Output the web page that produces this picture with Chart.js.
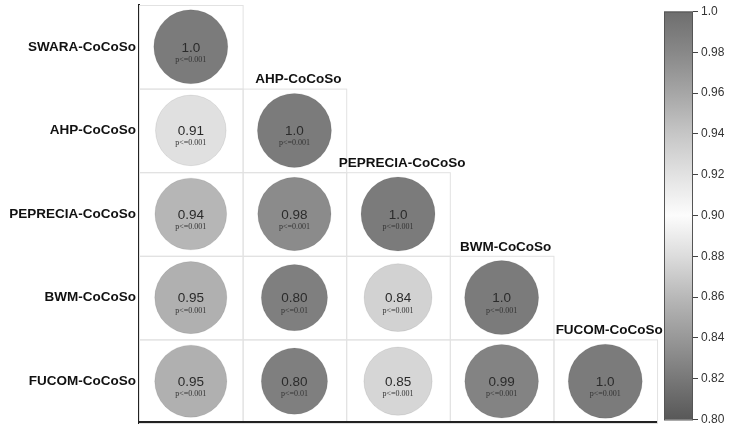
<!DOCTYPE html>
<html lang="en">
<head>
    <meta charset="UTF-8">
    <title>Correlation matrix - CoCoSo rankings</title>
    <script src="https://cdn.jsdelivr.net/npm/chart.js"></script>
    <style>
        body { margin: 0; background: #fff; }
        #wrap { width: 732px; height: 427px; position: relative; }
    </style>
</head>
<body>
    <div id="wrap"><canvas id="grafico"></canvas></div>

    <script>
        // methods (rows top to bottom, columns left to right)
        const methods = ['SWARA-CoCoSo', 'AHP-CoCoSo', 'PEPRECIA-CoCoSo', 'BWM-CoCoSo', 'FUCOM-CoCoSo'];

        // lower triangle of the correlation matrix
        const corrRows = [
            [1.0],
            [0.91, 1.0],
            [0.94, 0.98, 1.0],
            [0.95, 0.80, 0.84, 1.0],
            [0.95, 0.80, 0.85, 0.99, 1.0]
        ];

        // significance shown under each value
        const pRows = [
            ['0.001'],
            ['0.001', '0.001'],
            ['0.001', '0.001', '0.001'],
            ['0.001', '0.01', '0.001', '0.001'],
            ['0.001', '0.01', '0.001', '0.001', '0.001']
        ];

        // colour bar ticks
        const cbTicks = [0.80, 0.82, 0.84, 0.86, 0.88, 0.90, 0.92, 0.94, 0.96, 0.98, 1.0];

        // grey scale used for the circles (value -> grey level)
        const circleStops = [[0.80, 0x7f], [0.84, 0xd2], [0.85, 0xd6], [0.90, 0xe6], [0.91, 0xe0],
                             [0.94, 0xb6], [0.95, 0xb0], [0.98, 0x8b], [0.99, 0x83], [1.0, 0x7b]];
        // grey scale of the colour bar
        const barStops = [[0.80, 0x58], [0.82, 0x78], [0.84, 0x98], [0.86, 0xb8], [0.88, 0xdc], [0.90, 0xfc],
                          [0.92, 0xe2], [0.94, 0xc6], [0.96, 0xa6], [0.98, 0x88], [1.0, 0x6e]];

        function grey(stops, v) {
            let g = stops[stops.length - 1][1];
            for (let k = 0; k < stops.length - 1; k++) {
                const a = stops[k], b = stops[k + 1];
                if (v >= a[0] && v <= b[0]) {
                    const t = (v - a[0]) / (b[0] - a[0]);
                    g = a[1] + t * (b[1] - a[1]);
                    break;
                }
            }
            g = Math.round(g);
            return `rgb(${g},${g},${g})`;
        }

        function fmtValue(v) {
            return v === 1 ? '1.0' : v.toFixed(2);
        }

        // bubble points built from the matrix
        const pontos = [];
        corrRows.forEach((row, i) => {
            row.forEach((v, j) => {
                pontos.push({ x: j + 0.5, y: i + 0.5, r: 37 * Math.sqrt(v), v: v, p: pRows[i][j] });
            });
        });

        const sans = '"Liberation Sans", Arial, sans-serif';
        const serif = '"Liberation Serif", "Times New Roman", serif';

        // grid lines, texts, axis line and colour bar
        const matrixPlugin = {
            id: 'matrixPlugin',
            beforeDatasetsDraw(chart) {
                const ctx = chart.ctx;
                const xs = chart.scales.x, ys = chart.scales.y;
                ctx.save();
                ctx.strokeStyle = '#e2e2e2';
                ctx.lineWidth = 1;
                corrRows.forEach((row, i) => {
                    row.forEach((v, j) => {
                        const x0 = xs.getPixelForValue(j), x1 = xs.getPixelForValue(j + 1);
                        const y0 = ys.getPixelForValue(i), y1 = ys.getPixelForValue(i + 1);
                        ctx.strokeRect(x0 + 0.5, y0 + 0.5, x1 - x0, y1 - y0);
                    });
                });
                ctx.restore();
            },
            afterDatasetsDraw(chart) {
                const ctx = chart.ctx;
                const xs = chart.scales.x, ys = chart.scales.y, cb = chart.scales.cb;
                ctx.save();
                ctx.textAlign = 'center';
                ctx.textBaseline = 'middle';

                // values and p labels
                pontos.forEach(pt => {
                    const cx = xs.getPixelForValue(pt.x), cy = ys.getPixelForValue(pt.y);
                    ctx.fillStyle = '#2b2b2b';
                    ctx.font = '13.5px ' + sans;
                    ctx.fillText(fmtValue(pt.v), cx, cy + 1);
                    ctx.fillStyle = '#333';
                    ctx.font = '8px ' + serif;
                    ctx.fillText('p<=' + pt.p, cx, cy + 13);
                });

                // column headers above the diagonal cells
                ctx.fillStyle = '#111';
                ctx.font = 'bold 13.5px ' + sans;
                for (let j = 1; j < methods.length; j++) {
                    ctx.fillText(methods[j], xs.getPixelForValue(j + 0.5) + 4, ys.getPixelForValue(j) - 9);
                }

                // bottom axis line
                const yb = ys.getPixelForValue(corrRows.length);
                ctx.strokeStyle = '#222';
                ctx.lineWidth = 2;
                ctx.beginPath();
                ctx.moveTo(xs.getPixelForValue(0) - 1, yb - 1);
                ctx.lineTo(xs.getPixelForValue(methods.length), yb - 1);
                ctx.stroke();

                // colour bar
                const top = cb.getPixelForValue(cbTicks[cbTicks.length - 1]);
                const bot = cb.getPixelForValue(cbTicks[0]);
                const right = cb.left, left = right - 29;
                const grad = ctx.createLinearGradient(0, bot, 0, top);
                barStops.forEach(s => {
                    grad.addColorStop((s[0] - cbTicks[0]) / (cbTicks[cbTicks.length - 1] - cbTicks[0]), grey(barStops, s[0]));
                });
                ctx.fillStyle = grad;
                ctx.fillRect(left, top, right - left, bot - top);
                ctx.strokeStyle = '#555';
                ctx.lineWidth = 1;
                ctx.strokeRect(left + 0.5, top + 0.5, right - left - 1, bot - top);
                ctx.restore();
            }
        };

        const ctx = document.getElementById('grafico').getContext('2d');
        new Chart(ctx, {
            type: 'bubble',
            data: {
                datasets: [{
                    data: pontos,
                    backgroundColor: c => grey(circleStops, c.raw ? c.raw.v : 1),
                    borderColor: 'rgba(0,0,0,0.08)',
                    borderWidth: 1,
                    clip: false
                }]
            },
            options: {
                responsive: true,
                maintainAspectRatio: false,
                animation: false,
                events: [],
                layout: { autoPadding: false, padding: { top: 5, bottom: 4, left: 0, right: 0 } },
                plugins: {
                    legend: { display: false },
                    tooltip: { enabled: false }
                },
                scales: {
                    x: {
                        type: 'linear',
                        min: 0,
                        max: 5.347,
                        display: false
                    },
                    y: {
                        type: 'linear',
                        min: 0,
                        max: 5,
                        reverse: true,
                        grid: { display: false, drawTicks: false },
                        border: { display: true, color: '#222', width: 2 },
                        afterBuildTicks: s => { s.ticks = methods.map((_, i) => ({ value: i + 0.5 })); },
                        afterFit: s => { s.width = 139; s.paddingTop = 0; s.paddingBottom = 0; },
                        ticks: {
                            padding: 3,
                            color: '#111',
                            font: { family: sans, size: 13.5, weight: 'bold' },
                            callback: v => methods[Math.round(v - 0.5)]
                        }
                    },
                    cb: {
                        type: 'linear',
                        position: 'right',
                        min: 0.79828,
                        max: 1.00319,
                        grid: { display: true, drawOnChartArea: false, drawTicks: true, tickLength: 5, color: '#444' },
                        border: { display: false },
                        afterBuildTicks: s => { s.ticks = cbTicks.map(v => ({ value: v })); },
                        afterFit: s => { s.width = 39; s.paddingTop = 0; s.paddingBottom = 0; },
                        ticks: {
                            padding: 3,
                            color: '#333',
                            font: { family: sans, size: 12 },
                            callback: v => fmtValue(v)
                        }
                    }
                }
            },
            plugins: [matrixPlugin]
        });
    </script>
</body>
</html>
